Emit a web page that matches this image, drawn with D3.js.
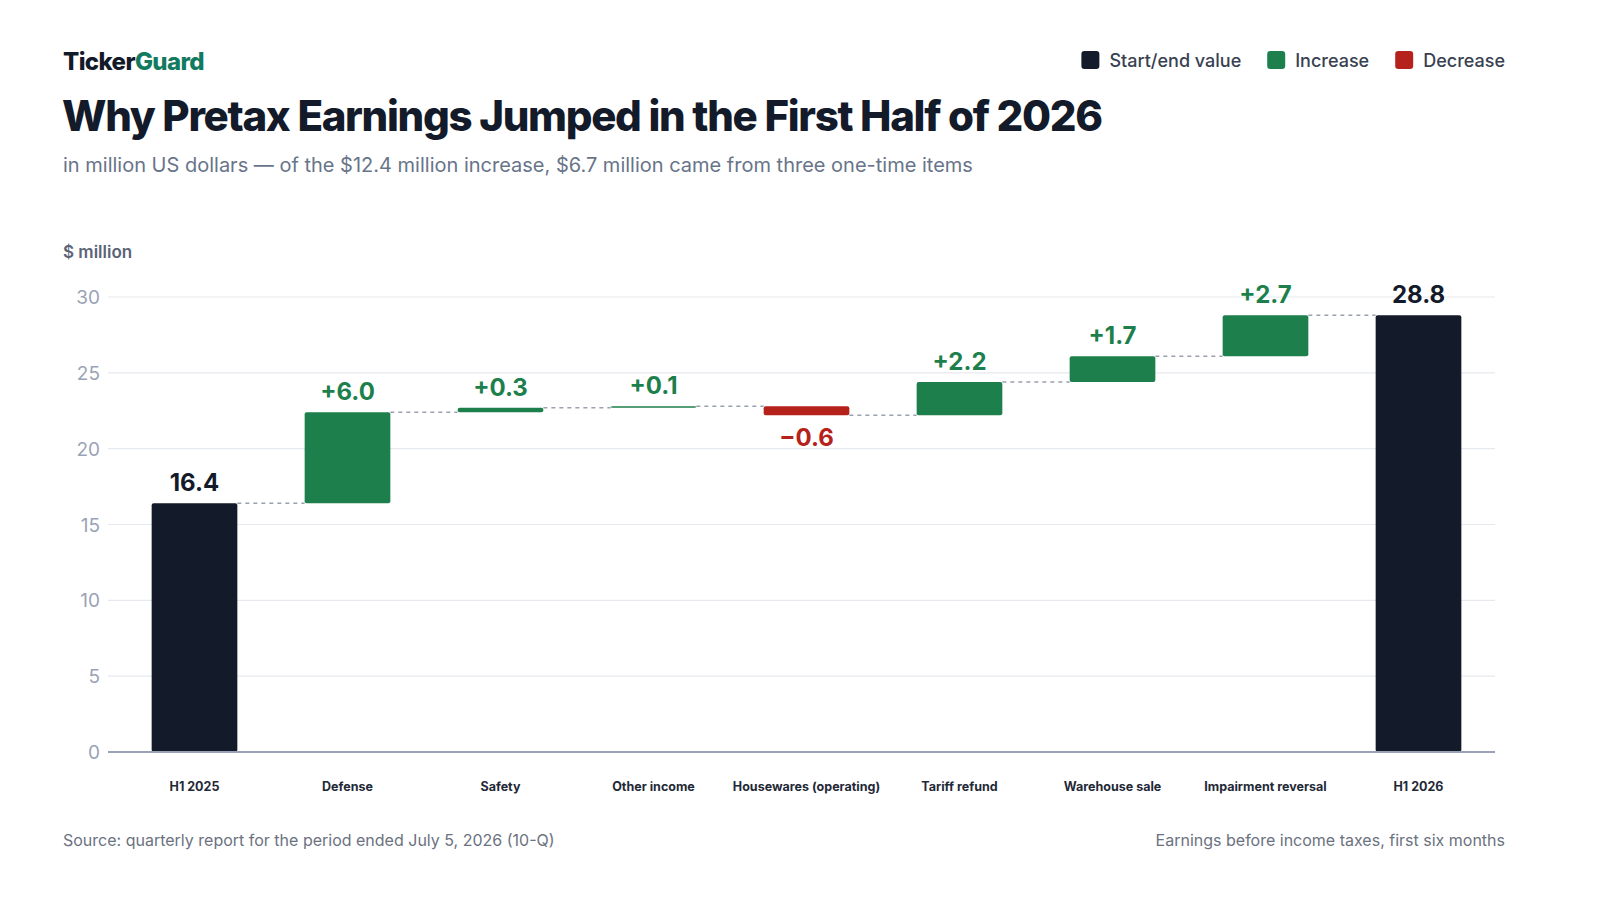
<!DOCTYPE html>
<html>
<head>
<meta charset="utf-8">
<script src="https://cdn.jsdelivr.net/npm/d3@7"></script>
<style>
  html, body { margin: 0; padding: 0; background: #fff; overflow: hidden; font-family: Inter, "Noto Sans", sans-serif; }
  svg { display: block; }
  svg text { font-family: Inter, "Noto Sans", sans-serif; }
</style>
</head>
<body>
<div id="chart"></div>
<script>
// data
const categories = ["H1 2025", "Defense", "Safety", "Other income", "Housewares (operating)", "Tariff refund", "Warehouse sale", "Impairment reversal", "H1 2026"];
const values = [16.4, 6.0, 0.3, 0.1, -0.6, 2.2, 1.7, 2.7, 28.8];
const kinds = ["total", "delta", "delta", "delta", "delta", "delta", "delta", "delta", "total"];
const yTicks = [0, 5, 10, 15, 20, 25, 30];

const colors = { total: "#131a2a", up: "#1c7f4c", down: "#b5221b" };

let width = 1600, height = 900;
let margin = ({ top: 297, right: 105, bottom: 148, left: 108 });

// running totals
let running = 0;
let steps = values.map(function(v, i) {
  let d = { name: categories[i], value: v, kind: kinds[i] };
  if (kinds[i] === "total") {
    d.y0 = 0; d.y1 = v; running = v;
  } else {
    d.y0 = running; d.y1 = running + v; running = d.y1;
  }
  d.color = d.kind === "total" ? colors.total : (v >= 0 ? colors.up : colors.down);
  return d;
});

const svg = d3.select("#chart").append("svg")
  .attr("width", width).attr("height", height)
  .attr("viewBox", [0, 0, width, height]);

let x = d3.scaleBand()
  .domain(categories)
  .range([118, width - margin.right])
  .paddingInner(0.44)
  .paddingOuter(0.22);

let y = d3.scaleLinear()
  .domain([0, 30])
  .range([height - margin.bottom, margin.top]);

// header
let logo = svg.append("text").attr("x", 63).attr("y", 70)
  .attr("font-size", 24).attr("font-weight", 800).attr("letter-spacing", -0.6);
logo.append("tspan").attr("fill", "#131a2a").text("Ticker");
logo.append("tspan").attr("fill", "#127a60").text("Guard");

svg.append("text").attr("x", 62).attr("y", 131)
  .attr("font-size", 42).attr("font-weight", 800).attr("letter-spacing", -1.3)
  .attr("fill", "#131a2a")
  .text("Why Pretax Earnings Jumped in the First Half of 2026");

svg.append("text").attr("x", 63).attr("y", 172)
  .attr("font-size", 20).attr("fill", "#687489")
  .text("in million US dollars \u2014 of the $12.4 million increase, $6.7 million came from three one-time items");

// legend (right aligned)
let legendItems = [["Start/end value", colors.total], ["Increase", colors.up], ["Decrease", colors.down]];
let lg = svg.append("g");
let lx = 0;
legendItems.forEach(function(item, i) {
  let g = lg.append("g").attr("transform", `translate(${lx},0)`);
  g.append("rect").attr("x", 0).attr("y", 51).attr("width", 18).attr("height", 18)
    .attr("rx", 3).attr("fill", item[1]);
  let t = g.append("text").attr("x", 28).attr("y", 67)
    .attr("font-size", 18).attr("font-weight", 500).attr("fill", "#374151")
    .text(item[0]);
  lx += 28 + t.node().getComputedTextLength() + 26;
});
let lgWidth = lx - 26;
lg.attr("transform", `translate(${1505 - lgWidth},0)`);

// y axis label
svg.append("text").attr("x", 63).attr("y", 258)
  .attr("font-size", 17).attr("font-weight", 600).attr("fill", "#5b6477")
  .text("$ million");

// grid
svg.append("g")
  .selectAll("line")
  .data(yTicks.filter(d => d > 0))
  .join("line")
    .attr("x1", margin.left).attr("x2", width - margin.right)
    .attr("y1", d => y(d)).attr("y2", d => y(d))
    .attr("stroke", "#e6e9ee").attr("stroke-width", 1.2);

let yAxis = g => g
  .attr("transform", `translate(${margin.left},0)`)
  .call(d3.axisLeft(y).tickValues(yTicks).tickSize(0).tickPadding(8))
  .call(g => g.select(".domain").remove())
  .call(g => g.selectAll("text")
    .attr("font-size", 19).attr("fill", "#9aa3b5").attr("dy", "0.35em"));

svg.append("g").call(yAxis);

// connectors
svg.append("g")
  .selectAll("line")
  .data(steps.slice(0, -1))
  .join("line")
    .attr("x1", d => x(d.name) + x.bandwidth())
    .attr("x2", (d, i) => x(steps[i + 1].name))
    .attr("y1", d => y(d.y1)).attr("y2", d => y(d.y1))
    .attr("stroke", "#9aa0ae").attr("stroke-width", 1.5)
    .attr("stroke-dasharray", "4,4");

// bars
svg.append("g")
  .selectAll("rect")
  .data(steps)
  .join("rect")
    .attr("x", d => x(d.name))
    .attr("width", x.bandwidth())
    .attr("y", d => y(Math.max(d.y0, d.y1)))
    .attr("height", d => Math.abs(y(d.y0) - y(d.y1)))
    .attr("rx", 2)
    .attr("fill", d => d.color);

// x axis baseline
svg.append("line")
  .attr("x1", margin.left).attr("x2", width - margin.right)
  .attr("y1", y(0)).attr("y2", y(0))
  .attr("stroke", "#9aa3b5").attr("stroke-width", 2);

// category labels
svg.append("g")
  .selectAll("text")
  .data(steps)
  .join("text")
    .attr("x", d => x(d.name) + x.bandwidth() / 2)
    .attr("y", 791)
    .attr("text-anchor", "middle")
    .attr("font-size", 12.5).attr("font-weight", 700).attr("fill", "#1f2937")
    .text(d => d.name);

// value labels
let fmt = d3.format(".1f");
svg.append("g")
  .selectAll("text")
  .data(steps)
  .join("text")
    .attr("x", d => x(d.name) + x.bandwidth() / 2)
    .attr("y", d => d.value < 0 ? y(d.y1) + 31 : y(d.y1) - 12)
    .attr("text-anchor", "middle")
    .attr("font-size", 24).attr("font-weight", 700)
    .attr("fill", d => d.color)
    .text(d => d.kind === "total" ? fmt(d.value)
      : (d.value >= 0 ? "+" + fmt(d.value) : "\u2212" + fmt(-d.value)));

// footer
svg.append("text").attr("x", 63).attr("y", 846)
  .attr("font-size", 16).attr("fill", "#6b7280")
  .text("Source: quarterly report for the period ended July 5, 2026 (10-Q)");

svg.append("text").attr("x", 1505).attr("y", 846)
  .attr("text-anchor", "end")
  .attr("font-size", 16).attr("fill", "#6b7280")
  .text("Earnings before income taxes, first six months");
</script>
</body>
</html>
